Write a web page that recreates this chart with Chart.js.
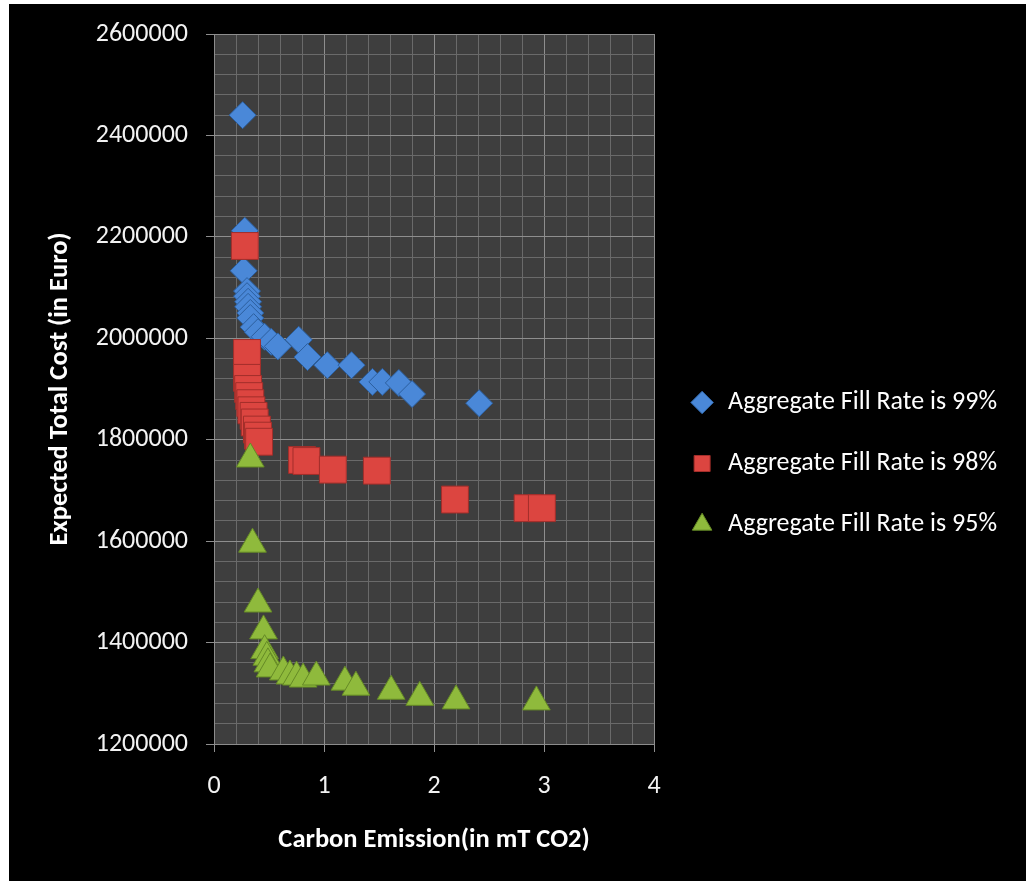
<!DOCTYPE html>
<html>
<head>
<meta charset="utf-8">
<script src="https://cdn.jsdelivr.net/npm/chart.js@4.4.0/dist/chart.umd.min.js"></script>
<style>
  html, body { margin: 0; padding: 0; background: #fff; }
  #wrap { position: absolute; left: 9px; top: 4px; width: 1017px; height: 877px; background: #000; }
  canvas { display: block; }
</style>
</head>
<body>
<div id="wrap"><canvas id="chart" width="1017" height="877"></canvas></div>
<script>
'use strict';

// ── Data ────────────────────────────────────────────────────────────
const SERIES_NAMES = ['Aggregate Fill Rate is 99%', 'Aggregate Fill Rate is 98%', 'Aggregate Fill Rate is 95%'];

const fill99X = [0.26, 0.28, 0.27, 0.30, 0.30, 0.31, 0.31, 0.33, 0.33, 0.36, 0.40, 0.46, 0.52, 0.58,
                 0.77, 0.85, 1.03, 1.25, 1.44, 1.53, 1.68, 1.80, 2.41];
const fill99Y = [2440000, 2212000, 2133000, 2093000, 2083000, 2072000, 2062000, 2050000, 2040000, 2022000,
                 2012000, 2003000, 1993000, 1984000, 1997000, 1963000, 1947000, 1947000, 1914000, 1914000,
                 1912000, 1890000, 1872000];

const fill98X = [0.28, 0.30, 0.30, 0.31, 0.32, 0.33, 0.34, 0.36, 0.37, 0.39, 0.40, 0.41,
                 0.80, 0.84, 1.08, 1.48, 2.19, 2.85, 2.98];
const fill98Y = [2182000, 1971000, 1922000, 1900000, 1886000, 1872000, 1858000, 1847000, 1834000, 1820000,
                 1808000, 1796000, 1760000, 1758000, 1741000, 1739000, 1682000, 1665000, 1665000];

const fill95X = [0.33, 0.35, 0.40, 0.45, 0.46, 0.48, 0.49, 0.51, 0.63, 0.69, 0.75, 0.81, 0.93,
                 1.19, 1.29, 1.61, 1.87, 2.20, 2.93];
const fill95Y = [1762000, 1594000, 1476000, 1423000, 1384000, 1371000, 1358000, 1348000, 1342000, 1334000,
                 1332000, 1328000, 1332000, 1322000, 1312000, 1304000, 1292000, 1285000, 1283000];

const X_MIN = 0, X_MAX = 4, X_MINOR = 0.2, X_MAJOR = 1;
const Y_MIN = 1200000, Y_MAX = 2600000, Y_MINOR = 40000, Y_MAJOR = 200000;

const toPoints = (xs, ys) => xs.map((x, i) => ({ x, y: ys[i] }));

// ── Styling ─────────────────────────────────────────────────────────
const FONT = 'Carlito, Lato, "Open Sans", sans-serif';
const isMajorX = v => Math.abs(v / X_MAJOR - Math.round(v / X_MAJOR)) < 1e-6;
const isMajorY = v => Math.abs(v % Y_MAJOR) < 1e-6;

const plotBg = {
  id: 'plotBg',
  beforeDraw(chart) {
    const { ctx, chartArea: a } = chart;
    ctx.save();
    ctx.fillStyle = '#3e3e3e';
    ctx.fillRect(a.left, a.top, a.right - a.left, a.bottom - a.top);
    ctx.restore();
  }
};

const series = (label, data, style, bg, border, radius, order) => ({
  label, data, order,
  pointStyle: style, pointRadius: radius, pointHoverRadius: radius,
  backgroundColor: bg, borderColor: border, borderWidth: 1
});

new Chart(document.getElementById('chart').getContext('2d'), {
  type: 'scatter',
  data: {
    datasets: [
      series(SERIES_NAMES[0], toPoints(fill99X, fill99Y), 'rectRot', '#4a88d8', '#2c5f9e', 13.5, 3),
      series(SERIES_NAMES[1], toPoints(fill98X, fill98Y), 'rect', '#dc4540', '#a22e2a', 19, 2),
      series(SERIES_NAMES[2], toPoints(fill95X, fill95Y), 'triangle', '#8fba3c', '#658a26', 16, 1)
    ]
  },
  options: {
    responsive: false, animation: false,
    layout: { padding: { top: 30, left: 0, right: 19, bottom: 0 } },
    scales: {
      x: {
        type: 'linear', min: X_MIN, max: X_MAX,
        afterFit: s => { s.height = 137; },
        border: { color: '#8c8c8c', width: 1 },
        grid: {
          color: c => isMajorX(c.tick.value) ? '#8e8e8e' : '#6a6a6a',
          tickColor: c => isMajorX(c.tick.value) ? '#8e8e8e' : 'rgba(0,0,0,0)',
          tickLength: 8, lineWidth: 1
        },
        ticks: {
          stepSize: X_MINOR, autoSkip: false, maxRotation: 0, padding: 19,
          color: '#f2f2f2', font: { family: FONT, size: 26 },
          callback: v => isMajorX(v) ? String(Math.round(v)) : ''
        },
        title: {
          display: true, text: 'Carbon Emission(in mT CO2)', color: '#ffffff',
          font: { family: FONT, size: 26.5, weight: 'bold' }, padding: { top: 0, bottom: 25 }
        }
      },
      y: {
        type: 'linear', min: Y_MIN, max: Y_MAX,
        afterFit: s => { s.width = 205; s.paddingTop = 0; s.paddingBottom = 0; },
        border: { color: '#8c8c8c', width: 1 },
        grid: {
          color: c => isMajorY(c.tick.value) ? '#8e8e8e' : '#6a6a6a',
          tickColor: c => isMajorY(c.tick.value) ? '#8e8e8e' : 'rgba(0,0,0,0)',
          tickLength: 8, lineWidth: 1
        },
        ticks: {
          stepSize: Y_MINOR, autoSkip: false, padding: 18,
          color: '#f2f2f2', font: { family: FONT, size: 26 },
          callback: v => isMajorY(v) ? String(v) : ''
        },
        title: {
          display: true, text: 'Expected Total Cost (in Euro)', color: '#ffffff',
          font: { family: FONT, size: 26.5, weight: 'bold' }, padding: { top: 35, bottom: 0 }
        }
      }
    },
    plugins: {
      legend: {
        position: 'right', align: 'center', maxWidth: 372,
        title: { display: true, text: '', font: { size: 10 }, padding: 0 },
        labels: {
          usePointStyle: true, boxHeight: 16, padding: 35, color: '#ffffff',
          font: { family: FONT, size: 26 },
          sort: (a, b) => a.datasetIndex - b.datasetIndex
        }
      },
      tooltip: { enabled: false }
    }
  },
  plugins: [plotBg]
});
</script>
</body>
</html>
